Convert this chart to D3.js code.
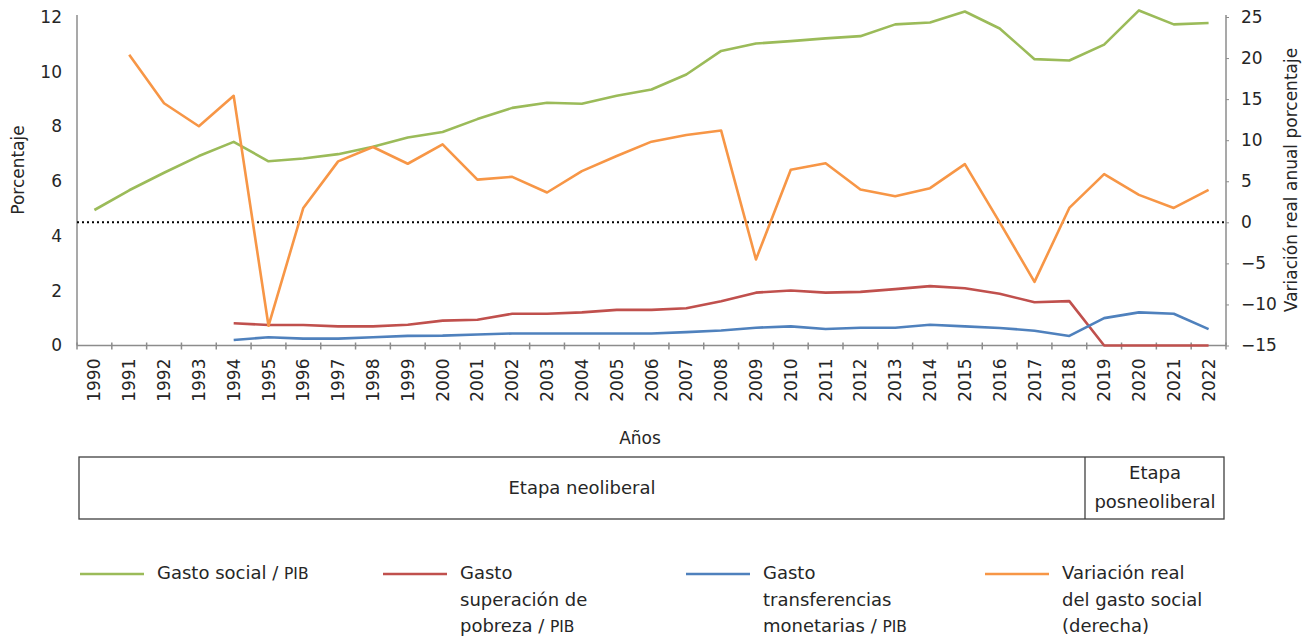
<!DOCTYPE html>
<html>
<head>
<meta charset="utf-8">
<script src="https://cdn.jsdelivr.net/npm/d3@7"></script>
<style>
  body { margin: 0; background: #fff; }
  svg text { font-family: "DejaVu Sans", Verdana, sans-serif; fill: #262626; }
</style>
</head>
<body>
<svg id="canvas"></svg>
<script>
// data
const years = ["1990","1991","1992","1993","1994","1995","1996","1997","1998","1999",
  "2000","2001","2002","2003","2004","2005","2006","2007","2008","2009","2010","2011",
  "2012","2013","2014","2015","2016","2017","2018","2019","2020","2021","2022"];

const gastoSocial = [4.95, 5.67, 6.31, 6.92, 7.44, 6.73, 6.83, 6.99, 7.26, 7.6, 7.8,
  8.27, 8.68, 8.87, 8.83, 9.12, 9.35, 9.9, 10.76, 11.03, 11.12, 11.22, 11.3, 11.73,
  11.8, 12.2, 11.58, 10.46, 10.41, 10.99, 12.24, 11.73, 11.78];

const gastoPobreza = [null, null, null, null, 0.81, 0.75, 0.75, 0.70, 0.70, 0.76, 0.91,
  0.94, 1.16, 1.16, 1.21, 1.30, 1.30, 1.36, 1.62, 1.93, 2.01, 1.93, 1.96, 2.06, 2.17,
  2.09, 1.89, 1.58, 1.62, 0, 0, 0, 0];

const gastoTransferencias = [null, null, null, null, 0.2, 0.3, 0.25, 0.25, 0.3, 0.35, 0.36,
  0.4, 0.44, 0.44, 0.44, 0.44, 0.44, 0.49, 0.55, 0.65, 0.7, 0.6, 0.65, 0.65, 0.76,
  0.7, 0.64, 0.54, 0.35, 1.0, 1.21, 1.16, 0.6];

const variacionReal = [null, 20.4, 14.5, 11.7, 15.4, -12.6, 1.75, 7.42, 9.17, 7.13, 9.5,
  5.2, 5.54, 3.63, 6.23, 8.07, 9.82, 10.64, 11.17, -4.52, 6.4, 7.2, 4.0, 3.18, 4.16,
  7.09, 0.0, -7.25, 1.75, 5.87, 3.34, 1.75, 3.95];

const leftTicks = [0, 2, 4, 6, 8, 10, 12];
const rightTicks = [-15, -10, -5, 0, 5, 10, 15, 20, 25];

const width = 1313, height = 639;
const svg = d3.select("#canvas").attr("width", width).attr("height", height);

// margins
const marginLeft = 77, marginRight = 87, marginTop = 17, axisY = 345.5;

const xScale = d3.scaleBand().domain(years).range([marginLeft, width - marginRight]).padding(0);
const yLeft = d3.scaleLinear().domain([0, 12]).range([axisY, marginTop]);
const yRight = d3.scaleLinear().domain([-15, 25]).range([axisY, marginTop]);
const cx = i => xScale(years[i]) + xScale.bandwidth() / 2;

const axisColor = "#8c8c8c";

// left axis
const gl = svg.append("g").attr("transform", `translate(${marginLeft},0)`)
  .call(d3.axisLeft(yLeft).tickValues(leftTicks).tickSize(0).tickPadding(15));
gl.select(".domain").attr("stroke", axisColor).attr("stroke-width", 1.5).attr("d", `M0,${axisY}V${marginTop - 2}`);
gl.selectAll("text").style("font-size", "17px").style("font-family", "DejaVu Sans").attr("fill", "#262626");

// right axis
const gr = svg.append("g").attr("transform", `translate(${width - marginRight},0)`)
  .call(d3.axisRight(yRight).tickValues(rightTicks).tickSize(3).tickPadding(12));
gr.select(".domain").attr("stroke", axisColor).attr("stroke-width", 1.5).attr("d", `M0,${axisY}V${marginTop - 2}`);
gr.selectAll("line").attr("stroke", axisColor);
gr.selectAll("text").style("font-size", "17px").style("font-family", "DejaVu Sans").attr("fill", "#262626");

// x axis with ticks between categories
const gx = svg.append("g").attr("transform", `translate(0,${axisY})`);
gx.append("line").attr("x1", marginLeft).attr("x2", width - marginRight)
  .attr("stroke", axisColor).attr("stroke-width", 1.5);
gx.selectAll("line.tk").data(years.concat(["end"])).join("line").attr("class", "tk")
  .attr("x1", (d, i) => i < years.length ? xScale(d) : width - marginRight)
  .attr("x2", (d, i) => i < years.length ? xScale(d) : width - marginRight)
  .attr("y1", -3).attr("y2", 4).attr("stroke", axisColor).attr("stroke-width", 1.5);
gx.selectAll("text").data(years).join("text")
  .attr("transform", (d, i) => `translate(${cx(i) + 6},13) rotate(-90)`)
  .attr("text-anchor", "end")
  .style("font-size", "17px")
  .text(d => d);

// zero line for right axis
svg.append("line")
  .attr("x1", marginLeft).attr("x2", width - marginRight)
  .attr("y1", yRight(0)).attr("y2", yRight(0))
  .attr("stroke", "#000").attr("stroke-width", 2).attr("stroke-dasharray", "2,3");

// lines
const series = [
  { vals: gastoSocial, y: yLeft, color: "#9bbb59" },
  { vals: gastoPobreza, y: yLeft, color: "#c0504d" },
  { vals: gastoTransferencias, y: yLeft, color: "#4f81bd" },
  { vals: variacionReal, y: yRight, color: "#f79646" }
];
series.forEach(s => {
  const line = d3.line()
    .defined(d => d != null)
    .x((d, i) => cx(i))
    .y(d => s.y(d));
  svg.append("path").datum(s.vals)
    .attr("fill", "none").attr("stroke", s.color).attr("stroke-width", 2.6)
    .attr("stroke-linejoin", "round")
    .attr("d", line);
});

// axis titles
svg.append("text").attr("transform", "translate(24,170) rotate(-90)")
  .attr("text-anchor", "middle").style("font-size", "17px").text("Porcentaje");
svg.append("text").attr("transform", "translate(1297,180) rotate(-90)")
  .attr("text-anchor", "middle").style("font-size", "17px").text("Variación real anual porcentaje");
svg.append("text").attr("x", 640).attr("y", 444)
  .attr("text-anchor", "middle").style("font-size", "17px").text("Años");

// etapas box
const box = svg.append("g");
box.append("rect").attr("x", 79).attr("y", 457).attr("width", 1224 - 79).attr("height", 62)
  .attr("fill", "none").attr("stroke", "#404040").attr("stroke-width", 1.3);
box.append("line").attr("x1", 1085).attr("x2", 1085).attr("y1", 457).attr("y2", 519)
  .attr("stroke", "#404040").attr("stroke-width", 1.3);
box.append("text").attr("x", 582).attr("y", 494).attr("text-anchor", "middle")
  .style("font-size", "18px").text("Etapa neoliberal");
box.append("text").attr("x", 1155).attr("y", 479).attr("text-anchor", "middle")
  .style("font-size", "18px").text("Etapa");
box.append("text").attr("x", 1155).attr("y", 508).attr("text-anchor", "middle")
  .style("font-size", "18px").text("posneoliberal");

// legend
const legend = [
  { color: "#9bbb59", x: 80, lines: [["Gasto social / ", "PIB"]] },
  { color: "#c0504d", x: 383, lines: [["Gasto"], ["superación de"], ["pobreza / ", "PIB"]] },
  { color: "#4f81bd", x: 686, lines: [["Gasto"], ["transferencias"], ["monetarias / ", "PIB"]] },
  { color: "#f79646", x: 985, lines: [["Variación real"], ["del gasto social"], ["(derecha)"]] }
];
legend.forEach(l => {
  const g = svg.append("g");
  g.append("line").attr("x1", l.x).attr("x2", l.x + 64).attr("y1", 574).attr("y2", 574)
    .attr("stroke", l.color).attr("stroke-width", 2.6);
  l.lines.forEach((ln, j) => {
    const t = g.append("text").attr("x", l.x + 77).attr("y", 579 + j * 26.5).style("font-size", "18px");
    t.append("tspan").text(ln[0]);
    if (ln[1]) t.append("tspan").style("font-size", "15.5px").text(ln[1]);
  });
});
</script>
</body>
</html>
